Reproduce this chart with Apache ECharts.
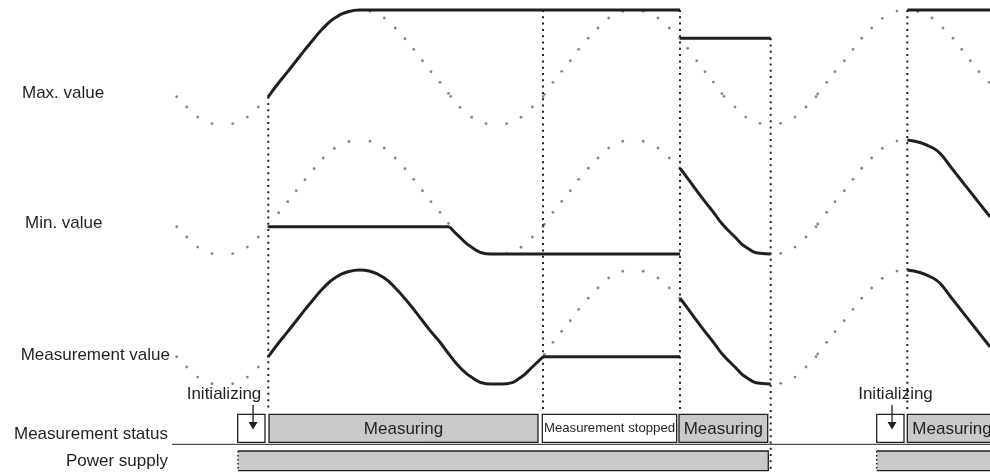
<!DOCTYPE html>
<html>
<head>
<meta charset="utf-8">
<script src="https://cdn.jsdelivr.net/npm/echarts@6.0.0/dist/echarts.min.js"></script>
<style>
  html, body { margin: 0; padding: 0; background: #fff; }
  #chart { width: 990px; height: 472px; }
</style>
</head>
<body>
<div id="chart"></div>
<script>
  // input signal, drawn dotted: [time, level]  (level 0 = row bottom, 100 = row top)
  const inputWave = [
    [176.7,23.9],[186.7,14.9],[197.7,6.1],[212,0.3],[232.7,0.3],[247.3,6.1],[258.3,14.9],[268.3,23.9],
    [278.7,36.2],[287.7,45.9],[296.3,55.5],[305,65.2],[314,74.8],[323.3,84.2],[334.3,92.7],[349,98.7],
    [370,98.9],[384.3,93],[395.3,84.2],[405,74.8],[413.7,65.5],[422.5,55.5],[431,45.9],[440,36.6],
    [448.5,26.8],[450.7,24.3],[460,14.5],[471.7,5.9],[486,0.3],[506.7,0.3],[521,5.9],[532.3,14.9],
    [543,23.9],[544.3,26],[553,36.6],[561.7,46.2],[570.3,55.5],[578.7,65.5],[588.3,75.2],[598,84.2],
    [608.7,93],[622.7,98.9],[643.3,98.9],[658,93],[669.3,84.2],[679.5,75.2],[687.7,66.4],[696.7,55.5],
    [705,45.9],[713.3,36.8],[722,26.6],[724,24.3],[735,14.9],[745.7,6.1],[760,0.6],[780.7,0.6],
    [795,6.1],[806,14.9],[816,23.9],[817.7,26.3],[826.7,36.6],[835,45.9],[844.3,55.5],[853,65.5],
    [861.7,75.2],[871.7,84.2],[882.3,92.7],[897,99.1],[917.7,98.5],[932,93],[943,84.2],[953,75.2],
    [961.7,65.5],[970.3,55.5],[979,45.9],[989,36.6]
  ];

  // solid output traces, one list of pieces per row
  const maxValueTrace = [
    [[268.3,23.9],[278.7,36.2],[287.7,45.9],[296.3,55.5],[305,65.2],[314,74.8],[323.3,84.2],[334.3,92.7],[349,98.7],[359.5,100],[680,100]],
    [[680,75.2],[770.7,75.2]],
    [[907.3,100],[990,100]]
  ];
  const restartFall = [[680,75.2],[687.7,66.4],[696.7,55.5],[705,45.9],[713.3,36.8],[722,26.6],[735,14.9],[745.7,6.1],[760,0.6],[770.7,0]];
  const lastRunFall = [[907.3,100],[920,97.8],[933,93],[940,88.3],[950,77.2],[960,66],[970,54.9],[980,43.8],[990,32.7]];
  const minValueTrace = [
    [[268.3,23.9],[449.5,23.9]],
    [[449.5,23.9],[460,14.5],[471.7,5.9],[486,0.3],[496.3,0],[680,0]],
    restartFall,
    lastRunFall
  ];
  const measurementTrace = [
    [[268.3,23.9],[278.7,36.2],[287.7,45.9],[296.3,55.5],[305,65.2],[314,74.8],[323.3,84.2],[334.3,92.7],[349,98.7],[359.5,100],
     [370,98.9],[384.3,93],[395.3,84.2],[405,74.8],[413.7,65.5],[422.5,55.5],[431,45.9],[440,36.6],[449.5,25.5],[460,14.5],
     [471.7,5.9],[486,0.3],[496.3,0],[506.7,0.3],[521,5.9],[532.3,14.9],[543,23.9]],
    [[543,23.9],[680,23.9]],
    restartFall,
    lastRunFall
  ];

  // where the dotted input is covered by the output in each row
  const hiddenRanges = [
    [[268.3,359.5]],
    [[449.5,496.3],[680,770.7],[907.3,990]],
    [[268.3,543],[680,770.7],[907.3,990]]
  ];

  // event instants (dotted verticals) and the held max level at each
  const eventTimes = [268.3, 543, 680, 770.7, 907.3];
  const eventTopLevel = [23.9, 100, 100, 75.2, 100];
  const powerOffAt = [false, false, false, true, false];

  // measurement status boxes
  const statusStart = [237.7, 269, 542.3, 679, 876.7, 907.3];
  const statusEnd = [265, 538, 676.7, 767.7, 904, 1000];
  const statusText = ['Initializing', 'Measuring', 'Measurement stopped', 'Measuring', 'Initializing', 'Measuring'];

  // power supply on periods
  const powerStart = [238, 876.7];
  const powerEnd = [768.3, 1000];

  const rowLabels = ['Max. value', 'Min. value', 'Measurement value'];

  // ---- layout ----
  const INK = '#231f20';
  const GREY = '#c8c9cb';
  const FONT = '17px "Liberation Sans", Arial, sans-serif';
  const rowBottom = [124, 254, 384];
  const rowSpan = 114;
  const BOX_TOP = 414.3, BOX_BOTTOM = 442.3;
  const POWER_TOP = 451, POWER_BOTTOM = 470.7;
  const initLabelX = [224, 895.5];

  function rowY(row, v) { return rowBottom[row] - v / 100 * rowSpan; }

  const chart = echarts.init(document.getElementById('chart'));
  const series = [];

  // dotted input wave
  hiddenRanges.forEach((ranges, row) => {
    series.push({
      type: 'scatter', silent: true, symbol: 'circle', symbolSize: 2.8, z: 1,
      itemStyle: { color: '#6a6a6a' },
      data: inputWave
        .filter(p => !ranges.some(r => p[0] > r[0] && p[0] < r[1]))
        .map(p => [p[0], rowY(row, p[1])])
    });
  });

  // solid traces
  [maxValueTrace, minValueTrace, measurementTrace].forEach((trace, row) => {
    trace.forEach(piece => {
      series.push({
        type: 'line', smooth: 0.5, symbol: 'none', silent: true, z: 3,
        lineStyle: { color: INK, width: 3, cap: 'butt', join: 'round' },
        data: piece.map(p => [p[0], rowY(row, p[1])])
      });
    });
  });

  // dotted event lines
  eventTimes.forEach((t, i) => {
    series.push({
      type: 'line', symbol: 'none', silent: true, z: 2,
      lineStyle: { color: INK, width: 2, type: [2, 4.3], cap: 'butt' },
      data: [[t, rowY(0, eventTopLevel[i])], [t, powerOffAt[i] ? 472 : 411]]
    });
  });

  // status base line
  series.push({
    type: 'line', symbol: 'none', silent: true, z: 2,
    lineStyle: { color: INK, width: 1 },
    data: [[172, 444.3], [990, 444.3]]
  });

  // status boxes
  series.push({
    type: 'custom', silent: true, z: 4, clip: false,
    data: statusText.map((s, i) => [statusStart[i], statusEnd[i]]),
    renderItem(params, api) {
      const i = params.dataIndex;
      const a = api.coord([statusStart[i], BOX_TOP]);
      const b = api.coord([statusEnd[i], BOX_BOTTOM]);
      const txt = statusText[i];
      const cx = (a[0] + b[0]) / 2;
      const children = [{
        type: 'rect',
        shape: { x: a[0], y: a[1], width: b[0] - a[0], height: b[1] - a[1] },
        style: { fill: txt === 'Measuring' ? GREY : '#fff', stroke: INK, lineWidth: 1.3 }
      }];
      if (txt === 'Initializing') {
        const ax = cx + 1.7;
        const k = i === 0 ? 0 : 1;
        children.push(
          { type: 'line', shape: { x1: ax, y1: 405, x2: ax, y2: 423 }, style: { stroke: INK, lineWidth: 1.3 } },
          { type: 'polygon', shape: { points: [[ax - 4.5, 422], [ax + 4.5, 422], [ax, 429.5]] }, style: { fill: INK } },
          { type: 'text', style: { text: txt, x: initLabelX[k], y: 394.5, font: FONT, fill: INK,
              align: 'center', verticalAlign: 'middle', textAlign: 'center', textVerticalAlign: 'middle' } }
        );
      } else {
        const small = txt === 'Measurement stopped';
        const tx = statusEnd[i] > 990 ? 952 : cx;
        children.push({
          type: 'text',
          style: { text: txt, x: tx, y: small ? 428.5 : 429,
            font: small ? '13.2px "Liberation Sans", Arial, sans-serif' : FONT, fill: INK,
            align: 'center', verticalAlign: 'middle', textAlign: 'center', textVerticalAlign: 'middle' }
        });
      }
      return { type: 'group', children };
    }
  });

  // power supply bars
  series.push({
    type: 'custom', silent: true, z: 4, clip: false,
    data: powerStart.map((s, i) => [s, powerEnd[i]]),
    renderItem(params, api) {
      const i = params.dataIndex;
      const a = api.coord([powerStart[i], POWER_TOP]);
      const b = api.coord([powerEnd[i], POWER_BOTTOM]);
      return {
        type: 'group',
        children: [
          { type: 'rect', shape: { x: a[0], y: a[1], width: b[0] - a[0], height: b[1] - a[1] }, style: { fill: GREY } },
          { type: 'polyline', shape: { points: [[a[0], a[1]], [b[0], a[1]], [b[0], b[1]], [a[0], b[1]]] },
            style: { stroke: INK, lineWidth: 1.3, fill: null } },
          { type: 'line', shape: { x1: a[0], y1: a[1], x2: a[0], y2: b[1] },
            style: { stroke: INK, lineWidth: 1.5, lineDash: [1.5, 2.5] } }
        ]
      };
    }
  });

  const labelStyle = (text, x, y, align) => ({
    type: 'text', silent: true,
    style: { text, x, y, font: FONT, fill: INK, align, verticalAlign: 'middle', textAlign: align, textVerticalAlign: 'middle' }
  });

  chart.setOption({
    animation: false,
    backgroundColor: '#fff',
    grid: { left: 0, right: 0, top: 0, bottom: 0 },
    xAxis: { type: 'value', min: 0, max: 990, show: false },
    yAxis: { type: 'value', min: 0, max: 472, inverse: true, show: false },
    graphic: [
      labelStyle(rowLabels[0], 22, 93, 'left'),
      labelStyle(rowLabels[1], 25, 223, 'left'),
      labelStyle(rowLabels[2], 170, 355.5, 'right'),
      labelStyle('Measurement status', 168, 434, 'right'),
      labelStyle('Power supply', 168, 461, 'right')
    ],
    series
  });
</script>
</body>
</html>
